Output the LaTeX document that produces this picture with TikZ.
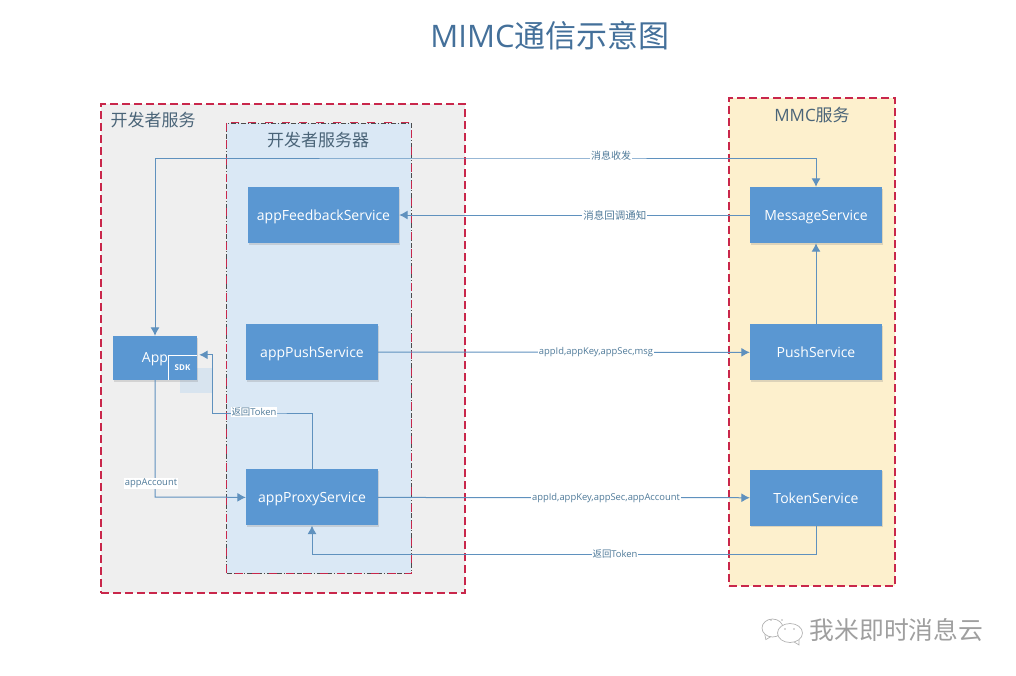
\documentclass[tikz,border=0pt]{standalone}
\usepackage{fontspec}
\setmainfont{Open Sans}
\newfontfamily\cjk{Noto Sans CJK SC}
\usepackage{tikz}
\usetikzlibrary{arrows.meta,shapes,positioning,shadows}
\definecolor{svcblue}{HTML}{5A97D2}
\definecolor{flowblue}{HTML}{5F91BE}
\definecolor{boxred}{HTML}{C9274B}
\definecolor{titleblue}{HTML}{44709A}
\definecolor{labelblue}{HTML}{4F7A99}
\definecolor{headgrey}{HTML}{4A6478}
\definecolor{devgrey}{HTML}{EFEFEF}
\definecolor{srvblue}{HTML}{DAE8F5}
\definecolor{mmcyellow}{HTML}{FDF0CD}
\definecolor{glowblue}{HTML}{D3E2EF}
\tikzset{
	svcbox/.style={fill=svcblue,text=white,font=\fontsize{14}{16}\selectfont,minimum width=132pt,minimum height=56pt,inner sep=0pt,text height=13.5pt,text depth=3pt,drop shadow={opacity=.25,shadow xshift=1pt,shadow yshift=-1.5pt}},
	zonebox/.style={draw=boxred,line width=1.1pt,dash pattern=on 8pt off 4pt,inner sep=0pt},
	flow/.style={-{Latex[length=8.5pt,width=9pt]},flowblue,line width=1pt},
	lbl/.style={font=\fontsize{9.4}{11}\selectfont,text=labelblue,fill=white,inner sep=1pt},
	zonehead/.style={text=headgrey,font=\fontsize{17}{20}\selectfont},
	wechat/.style={draw=gray!60,fill=white,line width=.7pt}
}
\begin{document}
\begin{tikzpicture}[x=1pt,y=-1pt,auto]
			\useasboundingbox (0,0) rectangle (1016,675);
			\node[text=titleblue,font=\fontsize{31}{36}\selectfont] (title) at (550,36) {MIMC{\cjk 通信示意图}};

			\node[zonebox,fill=devgrey,minimum width=364pt,minimum height=489pt] (devZone) at (283,348.5) {};
			\node[draw=black!70,line width=.5pt,dash pattern=on 5pt off 2pt on 1pt off 2pt,fill=srvblue,minimum width=184.5pt,minimum height=450pt,inner sep=0pt] (srvZone) at (318.75,348) {};
			\draw[boxred,line width=1.1pt,dash pattern=on 8pt off 9pt] (srvZone.north west) rectangle (srvZone.south east);
			\node[zonebox,fill=mmcyellow,minimum width=166pt,minimum height=488pt] (mmcZone) at (812,342) {};

			\node[zonehead] (devHead) at (153,120) {\cjk 开发者服务};
			\node[zonehead] (srvHead) at (318,140) {\cjk 开发者服务器};
			\node[zonehead] (mmcHead) at (812,115) {MMC{\cjk 服务}};

			\fill[glowblue,opacity=.8] (180,368) rectangle (212,393);

			\node[svcbox,minimum width=151pt] (appFeedbackService) at (323.5,215) {appFeedbackService};
			\node[svcbox] (appPushService) at (312,352) {appPushService};
			\node[svcbox] (appProxyService) [below=89pt of appPushService] {appProxyService};
			\node[svcbox] (MessageService) at (816,215) {MessageService};
			\node[svcbox] (PushService) [below=81pt of MessageService] {PushService};
			\node[svcbox] (TokenService) [below=89pt of PushService] {TokenService};
			\node[svcbox,minimum width=84pt,minimum height=44pt,text height=11pt] (App) at (155,358) {App};
			\node[text=white,font=\bfseries\fontsize{8}{10}\selectfont,minimum width=29pt,minimum height=25pt,inner sep=0pt] (SDK) at (182.5,367.5) {SDK};
			\draw[white,line width=.6pt] (SDK.south west) |- (SDK.north east);

			\coordinate (recvTop) at (480,158);
			\coordinate (tokenBack) at (560,554);
			\coordinate (appTurn) at (200,497);
			\coordinate (proxyUp) at (262,413);

			\draw[flow,{Latex[length=8.5pt,width=9pt]}-{Latex[length=8.5pt,width=9pt]}] (App.north) |- (recvTop) -| (MessageService.north);
			\node[lbl,font=\cjk\fontsize{10}{12}\selectfont] (recvLbl) at (611,156) {消息收发};

			\path
			(MessageService) edge[flow] node[lbl,font=\cjk\fontsize{10.5}{12}\selectfont,pos=.385,anchor=center] (feedLbl) {消息回调通知} (appFeedbackService)
			(PushService) edge[flow] (MessageService)
			(appPushService) edge[flow] node[lbl,pos=.586,anchor=center] (pushLbl) {appId,appKey,appSec,msg} (PushService)
			(appProxyService) edge[flow] node[lbl,pos=.613,anchor=center] (tokenLbl) {appId,appKey,appSec,appAccount} (TokenService);

			\draw[flow] (TokenService.south) |- (tokenBack) -| (appProxyService.south);
			\node[lbl] (backLbl) at (615,554) {{\cjk 返回}Token};

			\draw[flow] (appProxyService.north) |- (proxyUp) -| ([xshift=15pt]SDK.north east) -- ([xshift=2pt]SDK.north east);
			\node[lbl] (retLbl) at (254,412) {{\cjk 返回}Token};

			\draw[flow] (App.south) |- (appTurn) -- (appProxyService.west);
			\node[lbl] (acctLbl) at (151,483) {appAccount};

			\node[wechat,ellipse,minimum width=21pt,minimum height=18pt,inner sep=0pt] (chatLeft) at (772.5,628) {};
			\node[wechat,ellipse,minimum width=25pt,minimum height=19pt,inner sep=0pt] (chatRight) at (790,633) {};
			\draw[gray!60,line width=.7pt] (chatLeft.south west) -- ++(1,5) -- ++(5,-3);
			\draw[gray!60,line width=.7pt] (chatRight.south east) -- ++(0,5) -- ++(-5,-3);
			\foreach \px/\py in {771/620,782/620,785/629,794/629}
				\fill[gray!60] (\px,\py) circle (.9pt);
			\node[text=gray!75,font=\cjk\fontsize{24.8}{28}\selectfont,inner sep=0pt] (brand) at (896.5,630) {我米即时消息云};
\end{tikzpicture}
\end{document}
